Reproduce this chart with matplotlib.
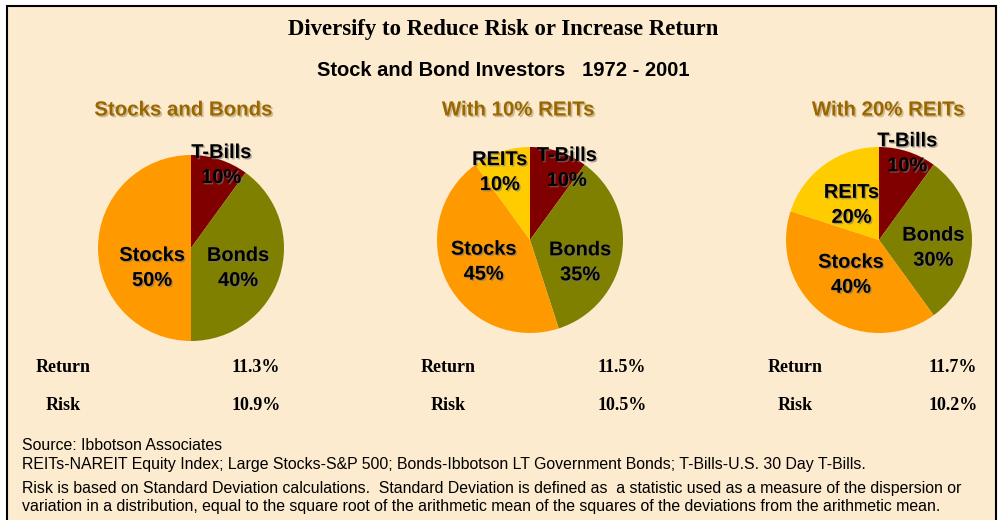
import numpy as np
import matplotlib
matplotlib.use("Agg")
import matplotlib.pyplot as plt
import matplotlib.patheffects as pe
from matplotlib.patches import Rectangle

W, H = 999, 520

# data
titles = ["Stocks and Bonds", "With 10% REITs", "With 20% REITs"]
assets = [["T-Bills", "Bonds", "Stocks"],
          ["T-Bills", "Bonds", "Stocks", "REITs"],
          ["T-Bills", "Bonds", "Stocks", "REITs"]]
weights = [[10, 40, 50],
           [10, 35, 45, 10],
           [10, 30, 40, 20]]
returns = ["11.3%", "11.5%", "11.7%"]
risks = ["10.9%", "10.5%", "10.2%"]

colors = {"T-Bills": "#800000", "Bonds": "#808000",
          "Stocks": "#FF9900", "REITs": "#FFCC00"}

# pie layout in pixels (center x, center y)
centers = [(191, 248), (530, 240), (879, 240)]
R = 93
title_x = [183, 518, 888]
# label placement: (radius fraction, angle shift in degrees) per wedge
label_pos = [[(0.95, -2), (0.55, -5), (0.47, 27)],
             [(0.87, -9), (0.59, -15), (0.55, -2), (0.80, 6)],
             [(0.98, 0), (0.59, -8), (0.48, -3), (0.48, 2)]]
row_x = [(63, 256), (448, 622), (795, 953)]

bg = "#FCEBCF"
fig = plt.figure(figsize=(W / 100, H / 100), dpi=100, facecolor="white")
fig.patches.append(Rectangle((7 / W, -0.01), 989 / W, 1 - 6 / H + 0.01,
                             transform=fig.transFigure, facecolor=bg,
                             edgecolor="black", linewidth=1.5, zorder=-10))

def fy(y):
    return 1 - y / H

def fx(x):
    return x / W

shadow = [pe.withSimplePatchShadow(offset=(1, -1), shadow_rgbFace="#777777", alpha=0.6)]

fig.text(fx(503), fy(30), "Diversify to Reduce Risk or Increase Return",
         family="Liberation Serif", weight="bold", fontsize=16.4,
         ha="center", va="center")
fig.text(fx(503), fy(70), "Stock and Bond Investors   1972 - 2001",
         family="Liberation Sans", weight="bold", fontsize=14.5,
         ha="center", va="center")

for i in range(3):
    cx, cy = centers[i]
    half = 105
    ax = fig.add_axes([fx(cx - half), fy(cy + half), 2 * half / W, 2 * half / H])
    ax.axis("off")
    wedges, _ = ax.pie(weights[i], colors=[colors[a] for a in assets[i]],
                       startangle=90, counterclock=False, radius=1,
                       wedgeprops=dict(linewidth=0))
    ax.set_xlim(-half / R, half / R)
    ax.set_ylim(-half / R, half / R)
    ax.set_aspect("equal")
    for w, name, val, (d, shift) in zip(wedges, assets[i], weights[i], label_pos[i]):
        ang = np.deg2rad((w.theta1 + w.theta2) / 2 + shift)
        ax.text(d * np.cos(ang), d * np.sin(ang), f"{name}\n{val}%",
                family="Liberation Sans", weight="bold", fontsize=14.4,
                ha="center", va="center", linespacing=1.4,
                path_effects=shadow, clip_on=False)
    fig.text(fx(title_x[i]), fy(110), titles[i], family="Liberation Sans",
             weight="bold", fontsize=14.7, color="#996600", ha="center",
             va="center",
             path_effects=[pe.withSimplePatchShadow(offset=(1.2, -1.2),
                                                   shadow_rgbFace="#c8b48c", alpha=0.9)])
    lx, vx = row_x[i]
    fig.text(fx(lx), fy(367), "Return", family="Liberation Serif",
             weight="bold", fontsize=13, ha="center", va="center")
    fig.text(fx(lx), fy(405), "Risk", family="Liberation Serif",
             weight="bold", fontsize=13, ha="center", va="center")
    fig.text(fx(vx), fy(367), returns[i], family="Liberation Serif",
             weight="bold", fontsize=13, ha="center", va="center")
    fig.text(fx(vx), fy(405), risks[i], family="Liberation Serif",
             weight="bold", fontsize=13, ha="center", va="center")

notes = [(446, "Source: Ibbotson Associates"),
         (465, "REITs-NAREIT Equity Index; Large Stocks-S&P 500; Bonds-Ibbotson LT Government Bonds; T-Bills-U.S. 30 Day T-Bills."),
         (489, "Risk is based on Standard Deviation calculations.  Standard Deviation is defined as  a statistic used as a measure of the dispersion or"),
         (506, "variation in a distribution, equal to the square root of the arithmetic mean of the squares of the deviations from the arithmetic mean.")]
for y, t in notes:
    fig.text(fx(22), fy(y), t, family="Liberation Sans", fontsize=11.4,
             ha="left", va="center")

fig.savefig("out.png", dpi=100, facecolor="white")
